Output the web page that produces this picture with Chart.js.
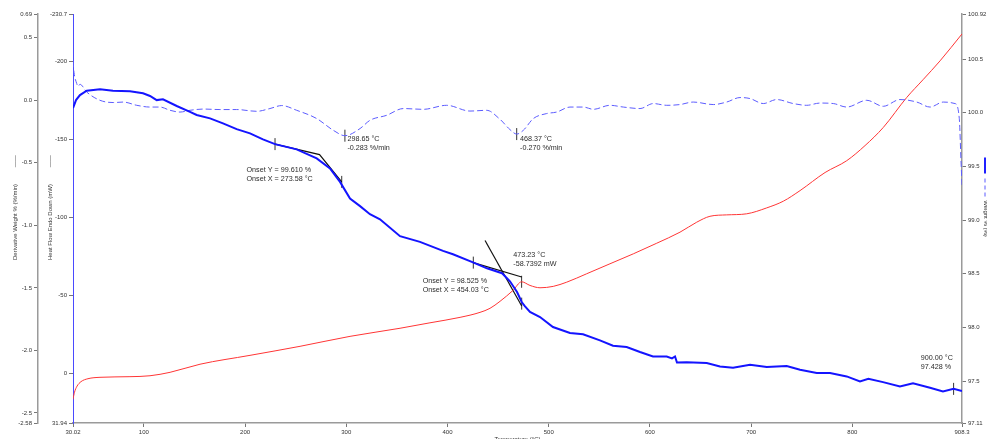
<!DOCTYPE html>
<html>
<head>
<meta charset="utf-8">
<script src="https://cdn.jsdelivr.net/npm/chart.js@4.4.1/dist/chart.umd.min.js"></script>
<style>
  html, body { margin: 0; padding: 0; background: #fff; }
  canvas { display: block; }
</style>
</head>
<body>
<canvas id="tga" width="987" height="439"></canvas>
<script>
// ---- Weight loss curve (TGA) : temperature °C / weight % ----
const weightTemp = [30.02, 33.0, 36.9, 43.6, 56.7, 69.5, 86.3, 99.2, 106.1, 112.7, 118.9, 132.5, 145.6, 152.2,
  165.4, 178.2, 191.7, 204.9, 217.7, 229.6, 251.0, 270.8, 283.9, 293.8, 303.7, 313.6, 323.4, 333.3, 353.1,
  372.8, 395.6, 405.4, 425.2, 439.0, 453.9, 461.7, 468.7, 473.3, 476.6, 481.5, 491.4, 504.2, 521.0, 533.9,
  550.6, 563.5, 577.0, 590.2, 603.0, 616.6, 621.8, 624.8, 626.7, 636.3, 656.1, 669.2, 682.1, 698.9, 715.4,
  735.1, 748.3, 764.8, 777.9, 794.4, 807.5, 815.8, 830.3, 847.0, 859.9, 876.7, 889.5, 900.0, 908.3];
const weightPct = [100.044, 100.118, 100.165, 100.205, 100.218, 100.205, 100.200, 100.181, 100.156, 100.118,
  100.125, 100.063, 100.009, 99.979, 99.948, 99.901, 99.848, 99.808, 99.752, 99.708, 99.659, 99.575, 99.481,
  99.356, 99.201, 99.130, 99.055, 99.008, 98.850, 98.797, 98.713, 98.682, 98.607, 98.551, 98.505, 98.430,
  98.330, 98.237, 98.197, 98.144, 98.097, 98.004, 97.948, 97.936, 97.880, 97.830, 97.817, 97.771, 97.730,
  97.730, 97.712, 97.730, 97.674, 97.677, 97.668, 97.637, 97.625, 97.653, 97.631, 97.640, 97.606, 97.575,
  97.575, 97.544, 97.497, 97.522, 97.491, 97.451, 97.481, 97.438, 97.404, 97.428, 97.407];

// ---- Derivative weight : temperature °C / %/min ----
const derivTemp = [30.02, 31.0, 33.7, 35.0, 36.9, 43.6, 56.7, 69.8, 79.7, 93.0, 106.1, 116.0, 125.9, 135.7,
  145.6, 158.8, 175.2, 191.7, 211.5, 224.6, 236.2, 251.0, 270.8, 287.2, 298.65, 313.6, 323.4, 339.9, 356.3,
  376.1, 399.2, 422.2, 438.7, 451.9, 461.7, 468.37, 474.9, 484.8, 498.0, 507.9, 521.0, 534.2, 544.1, 560.5,
  573.7, 590.2, 603.3, 616.6, 629.7, 642.8, 662.6, 675.8, 689.0, 698.9, 712.0, 725.2, 741.6, 754.9, 768.0,
  781.2, 794.4, 814.2, 830.6, 847.0, 863.6, 876.7, 889.8, 901.4, 905.6, 907.3, 908.3];
const derivRate = [0.312, 0.224, 0.134, 0.112, 0.128, 0.066, 0.0, -0.018, -0.014, -0.04, -0.054, -0.054, -0.08,
  -0.094, -0.08, -0.07, -0.074, -0.074, -0.088, -0.066, -0.042, -0.08, -0.146, -0.24, -0.283, -0.226, -0.16,
  -0.12, -0.066, -0.072, -0.04, -0.086, -0.08, -0.152, -0.234, -0.270, -0.24, -0.146, -0.106, -0.094, -0.054,
  -0.054, -0.072, -0.04, -0.054, -0.066, -0.026, -0.04, -0.034, -0.014, -0.034, -0.014, 0.022, 0.014, -0.026,
  0.006, -0.026, -0.04, -0.022, -0.026, -0.054, 0.0, -0.048, 0.006, -0.014, -0.054, -0.014, -0.026, -0.144,
  -0.48, -0.68];

// ---- Heat flow (DSC, endo down) : temperature °C / mW ----
const heatTemp = [30.02, 31.5, 34.0, 37.9, 44.8, 56.7, 86.3, 106.1, 125.9, 155.5, 204.9, 254.3, 303.7, 353.1,
  382.7, 412.4, 432.1, 442.0, 451.9, 464.7, 473.23, 481.5, 491.4, 504.5, 517.8, 537.5, 560.5, 583.6, 606.7,
  629.7, 646.2, 659.3, 675.8, 695.6, 715.4, 731.8, 748.3, 773.0, 794.4, 812.5, 830.6, 853.7, 869.8, 886.6, 908.3];
const heatFlow = [16.7, 12.2, 8.3, 5.4, 3.5, 2.6, 2.2, 1.6, -0.6, -5.8, -11.5, -17.3, -23.7, -28.9, -32.4,
  -35.9, -39.1, -41.7, -46.2, -53.2, -58.7392, -56.4, -54.9, -55.8, -58.5, -63.9, -70.3, -76.7, -83.5, -90.6,
  -97.0, -100.8, -101.7, -102.4, -106.2, -110.5, -117.3, -128.9, -136.5, -146.2, -157.9, -177.1, -188.5,
  -200.6, -217.9];

// ---- Onset tangent constructions on the weight curve ----
const onset1Temp = [229.6, 273.58, 295.5];
const onset1Weight = [99.708, 99.610, 99.356];
const onset2aTemp = [425.5, 473.3];
const onset2aWeight = [98.604, 98.470];
const onset2bTemp = [437.1, 473.3];
const onset2bWeight = [98.81, 98.20];

// ---- Cursor ticks ----
const weightMarkTemp = [229.6, 295.5, 425.5, 473.3, 900.0];
const weightMarkPct = [99.708, 99.356, 98.604, 98.222, 97.428];
const derivMarkTemp = [298.65, 468.37];
const derivMarkRate = [-0.283, -0.270];
const heatMarkTemp = [473.23];
const heatMarkFlow = [-58.7392];

// ---- Axis ticks ----
const xTickValues = [30.02, 100, 200, 300, 400, 500, 600, 700, 800, 908.3];
const xTickLabels = ['30.02', '100', '200', '300', '400', '500', '600', '700', '800', '908.3'];
const derivTickValues = [0.69, 0.5, 0.0, -0.5, -1.0, -1.5, -2.0, -2.5, -2.58];
const derivTickLabels = ['0.69', '0.5', '0.0', '-0.5', '-1.0', '-1.5', '-2.0', '-2.5', '-2.58'];
const heatTickValues = [-230.7, -200, -150, -100, -50, 0, 31.94];
const heatTickLabels = ['-230.7', '-200', '-150', '-100', '-50', '0', '31.94'];
const weightTickValues = [100.92, 100.5, 100.0, 99.5, 99.0, 98.5, 98.0, 97.5, 97.11];
const weightTickLabels = ['100.92', '100.5', '100.0', '99.5', '99.0', '98.5', '98.0', '97.5', '97.11'];

// ---- Cursor readouts ----
const notes = [
  { axis: 'yDeriv', x: 298.65, y: -0.283, lines: ['298.65 °C', '-0.283 %/min'] },
  { axis: 'yDeriv', x: 468.37, y: -0.270, lines: ['468.37 °C', '-0.270 %/min'] },
  { axis: 'yWeight', x: 273.58, y: 99.610, lines: ['Onset Y = 99.610 %', 'Onset X = 273.58 °C'] },
  { axis: 'yWeight', x: 454.03, y: 98.525, lines: ['Onset Y = 98.525 %', 'Onset X = 454.03 °C'] },
  { axis: 'yHeat', x: 473.23, y: -58.7392, lines: ['473.23 °C', '-58.7392 mW'] },
  { axis: 'yWeight', x: 900.00, y: 97.428, lines: ['900.00 °C', '97.428 %'] }
];
// text placement relative to each readout point (px)
const noteOffsets = [[2.5, 3.6], [3.3, 4.5], [-73, 15], [-79.5, 10], [-8.3, -26.4], [-32.8, -31]];

const pts = (xs, ys) => xs.map((x, i) => ({ x: x, y: ys[i] }));

const FONT = '"Liberation Sans", Arial, sans-serif';
Chart.defaults.font.family = FONT;
Chart.defaults.color = '#333';

// axis titles carry their line-style key; leading blanks keep the key + text block centred
const pad = (n) => '\u00a0'.repeat(n);
const derivTitle = pad(13) + 'Derivative Weight % (%/min)' + pad(10) + '——';
const heatTitle = pad(13) + 'Heat Flow Endo Down (mW)' + pad(10) + '——';

function fixedTicks(values) {
  return (scale) => { scale.ticks = values.map(v => ({ value: v })); };
}
function tickLabel(values, labels) {
  return (value) => {
    const i = values.findIndex(v => Math.abs(v - value) < 1e-9);
    return i >= 0 ? labels[i] : '';
  };
}

const readouts = {
  id: 'readouts',
  afterDatasetsDraw(chart) {
    const { ctx } = chart;
    const xs = chart.scales.x;
    ctx.save();
    ctx.font = '7.2px ' + FONT;
    ctx.fillStyle = '#2b2b2b';
    ctx.textBaseline = 'middle';
    ctx.textAlign = 'left';
    notes.forEach((n, i) => {
      const px = xs.getPixelForValue(n.x) + noteOffsets[i][0];
      const py = chart.scales[n.axis].getPixelForValue(n.y) + noteOffsets[i][1];
      n.lines.forEach((t, k) => ctx.fillText(t, px, py + k * 9));
    });
    ctx.restore();
  },
  afterDraw(chart) {
    // line-style keys beside the weight axis title
    const s = chart.scales.yWeight;
    const cy = (chart.chartArea.top + chart.chartArea.bottom) / 2;
    const { ctx } = chart;
    ctx.save();
    ctx.strokeStyle = '#2020ff';
    ctx.lineWidth = 2;
    ctx.beginPath();
    ctx.moveTo(s.right - 2, cy - 61);
    ctx.lineTo(s.right - 2, cy - 45);
    ctx.stroke();
    ctx.lineWidth = 1;
    ctx.setLineDash([4, 3]);
    ctx.strokeStyle = '#5a5aff';
    ctx.beginPath();
    ctx.moveTo(s.right - 2, cy - 40);
    ctx.lineTo(s.right - 2, cy - 21);
    ctx.stroke();
    ctx.restore();
  }
};

const gridOpts = (color) => ({
  drawOnChartArea: false, drawTicks: true, tickLength: 4, color: color, lineWidth: 1
});

new Chart(document.getElementById('tga'), {
  type: 'line',
  data: {
    datasets: [
      {
        label: 'Weight %', data: pts(weightTemp, weightPct), yAxisID: 'yWeight',
        borderColor: '#1414ff', borderWidth: 2, pointRadius: 0, tension: 0
      },
      {
        label: 'Derivative Weight %', data: pts(derivTemp, derivRate), yAxisID: 'yDeriv',
        borderColor: '#5c5cff', borderWidth: 1, borderDash: [6, 3], pointRadius: 0,
        cubicInterpolationMode: 'monotone'
      },
      {
        label: 'Heat Flow', data: pts(heatTemp, heatFlow), yAxisID: 'yHeat',
        borderColor: '#ff3535', borderWidth: 1, pointRadius: 0, cubicInterpolationMode: 'monotone'
      },
      {
        label: 'Onset 1', data: pts(onset1Temp, onset1Weight), yAxisID: 'yWeight',
        borderColor: '#111', borderWidth: 1.2, pointRadius: 0, tension: 0
      },
      {
        label: 'Onset 2a', data: pts(onset2aTemp, onset2aWeight), yAxisID: 'yWeight',
        borderColor: '#111', borderWidth: 1.2, pointRadius: 0, tension: 0
      },
      {
        label: 'Onset 2b', data: pts(onset2bTemp, onset2bWeight), yAxisID: 'yWeight',
        borderColor: '#111', borderWidth: 1.2, pointRadius: 0, tension: 0
      },
      {
        label: 'Weight cursors', data: pts(weightMarkTemp, weightMarkPct), yAxisID: 'yWeight',
        showLine: false, pointStyle: 'line', rotation: 90, pointRadius: 6,
        borderColor: '#333', borderWidth: 1
      },
      {
        label: 'Derivative cursors', data: pts(derivMarkTemp, derivMarkRate), yAxisID: 'yDeriv',
        showLine: false, pointStyle: 'line', rotation: 90, pointRadius: 6,
        borderColor: '#333', borderWidth: 1
      },
      {
        label: 'Heat cursor', data: pts(heatMarkTemp, heatMarkFlow), yAxisID: 'yHeat',
        showLine: false, pointStyle: 'line', rotation: 90, pointRadius: 6,
        borderColor: '#333', borderWidth: 1
      }
    ]
  },
  options: {
    responsive: false,
    animation: false,
    devicePixelRatio: 1,
    layout: { padding: { top: 14, left: 0, right: 0, bottom: 0 } },
    plugins: { legend: { display: false }, tooltip: { enabled: false } },
    elements: { point: { hoverRadius: 0 } },
    scales: {
      x: {
        type: 'linear', position: 'bottom', min: 30.02, max: 908.3,
        afterBuildTicks: fixedTicks(xTickValues),
        afterFit: (s) => { s.height = 16; },
        ticks: {
          autoSkip: false, maxRotation: 0, padding: 1.5, font: { size: 6 }, color: '#333',
          callback: tickLabel(xTickValues, xTickLabels)
        },
        grid: gridOpts('#777'),
        border: { display: true, color: '#9a9a9a', width: 1.5 },
        title: {
          display: true, text: 'Temperature (°C)', font: { size: 6 }, color: '#333',
          padding: { top: 0, bottom: -4.1 }
        }
      },
      yDeriv: {
        type: 'linear', position: 'left', weight: 2, min: -2.58, max: 0.69,
        afterBuildTicks: fixedTicks(derivTickValues),
        afterFit: (s) => { s.width = 38; },
        ticks: {
          autoSkip: false, padding: 2, font: { size: 6 }, color: '#333',
          callback: tickLabel(derivTickValues, derivTickLabels)
        },
        grid: gridOpts('#777'),
        border: { display: true, color: '#9a9a9a', width: 1.5 },
        title: {
          display: true, text: derivTitle, font: { size: 6 }, color: '#333',
          padding: { top: 11.4, bottom: 0 }
        }
      },
      yHeat: {
        type: 'linear', position: 'left', weight: 1, reverse: true, min: -230.7, max: 31.94,
        afterBuildTicks: fixedTicks(heatTickValues),
        afterFit: (s) => { s.width = 35; },
        ticks: {
          autoSkip: false, padding: 2, font: { size: 6 }, color: '#333',
          callback: tickLabel(heatTickValues, heatTickLabels)
        },
        grid: gridOpts('#777'),
        border: { display: true, color: '#4a4aff', width: 1 },
        title: {
          display: true, text: heatTitle, font: { size: 6 }, color: '#333',
          padding: { top: 8.4, bottom: 0 }
        }
      },
      yWeight: {
        type: 'linear', position: 'right', min: 97.11, max: 100.92,
        afterBuildTicks: fixedTicks(weightTickValues),
        afterFit: (s) => { s.width = 25; },
        ticks: {
          autoSkip: false, padding: 2, font: { size: 6 }, color: '#333',
          callback: tickLabel(weightTickValues, weightTickLabels)
        },
        grid: gridOpts('#777'),
        border: { display: true, color: '#9a9a9a', width: 1.5 },
        title: {
          display: true, text: 'Weight % (%)', font: { size: 6 }, color: '#333',
          padding: { top: -2.6, bottom: 0 }
        }
      }
    }
  },
  plugins: [readouts]
});
</script>
</body>
</html>
